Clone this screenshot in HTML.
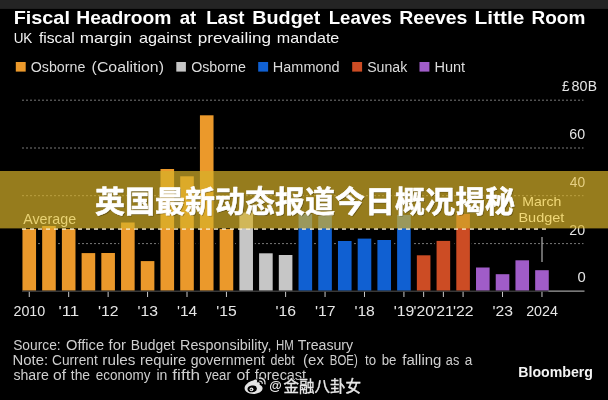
<!DOCTYPE html>
<html><head><meta charset="utf-8"><title>Fiscal Headroom</title>
<style>
html,body{margin:0;padding:0;background:#000;}
body{width:608px;height:400px;overflow:hidden;font-family:"Liberation Sans",sans-serif;}
svg{display:block;will-change:transform;}
svg text{font-family:"Liberation Sans",sans-serif;white-space:pre;}
svg text.cjk{font-family:"Liberation Sans","Noto Sans CJK SC",sans-serif;}
</style></head><body>
<svg width="608" height="400" viewBox="0 0 608 400">
<g opacity="0.999">
<rect x="0" y="0" width="608" height="400" fill="#000"/>
<rect x="0" y="0" width="608" height="8.9" fill="#242424"/>
<line x1="22" y1="100.2" x2="583.5" y2="100.2" stroke="#787878" stroke-width="1" stroke-dasharray="2 2"/>
<line x1="22" y1="148" x2="583.5" y2="148" stroke="#787878" stroke-width="1" stroke-dasharray="2 2"/>
<line x1="22" y1="195.7" x2="583.5" y2="195.7" stroke="#787878" stroke-width="1" stroke-dasharray="2 2"/>
<line x1="22" y1="243.6" x2="583.5" y2="243.6" stroke="#787878" stroke-width="1" stroke-dasharray="2 2"/>
<rect x="20.65" y="227.50" width="17.20" height="63.70" fill="#000"/>
<rect x="40.37" y="224.50" width="17.20" height="66.70" fill="#000"/>
<rect x="60.09" y="227.50" width="17.20" height="63.70" fill="#000"/>
<rect x="79.81" y="251.60" width="17.20" height="39.60" fill="#000"/>
<rect x="99.53" y="251.50" width="17.20" height="39.70" fill="#000"/>
<rect x="119.25" y="221.00" width="17.20" height="70.20" fill="#000"/>
<rect x="138.97" y="259.60" width="17.20" height="31.60" fill="#000"/>
<rect x="158.69" y="167.50" width="17.20" height="123.70" fill="#000"/>
<rect x="178.41" y="174.80" width="17.20" height="116.40" fill="#000"/>
<rect x="198.13" y="113.80" width="17.20" height="177.40" fill="#000"/>
<rect x="217.85" y="227.50" width="17.20" height="63.70" fill="#000"/>
<rect x="237.57" y="211.00" width="17.20" height="80.20" fill="#000"/>
<rect x="257.29" y="251.80" width="17.20" height="39.40" fill="#000"/>
<rect x="277.01" y="253.50" width="17.20" height="37.70" fill="#000"/>
<rect x="296.73" y="212.50" width="17.20" height="78.70" fill="#000"/>
<rect x="316.45" y="214.20" width="17.20" height="77.00" fill="#000"/>
<rect x="336.17" y="239.50" width="17.20" height="51.70" fill="#000"/>
<rect x="355.89" y="237.10" width="17.20" height="54.10" fill="#000"/>
<rect x="375.61" y="238.50" width="17.20" height="52.70" fill="#000"/>
<rect x="395.33" y="213.50" width="17.20" height="77.70" fill="#000"/>
<rect x="415.05" y="253.80" width="17.20" height="37.40" fill="#000"/>
<rect x="434.77" y="239.40" width="17.20" height="51.80" fill="#000"/>
<rect x="454.49" y="212.50" width="17.20" height="78.70" fill="#000"/>
<rect x="474.21" y="266.00" width="17.20" height="25.20" fill="#000"/>
<rect x="493.93" y="272.70" width="17.20" height="18.50" fill="#000"/>
<rect x="513.65" y="258.80" width="17.20" height="32.40" fill="#000"/>
<rect x="533.37" y="268.70" width="17.20" height="22.50" fill="#000"/>
<rect x="22.45" y="229.00" width="13.6" height="61.60" fill="#EB992B"/>
<rect x="42.17" y="226.00" width="13.6" height="64.60" fill="#EB992B"/>
<rect x="61.89" y="229.00" width="13.6" height="61.60" fill="#EB992B"/>
<rect x="81.61" y="253.10" width="13.6" height="37.50" fill="#EB992B"/>
<rect x="101.33" y="253.00" width="13.6" height="37.60" fill="#EB992B"/>
<rect x="121.05" y="222.50" width="13.6" height="68.10" fill="#EB992B"/>
<rect x="140.77" y="261.10" width="13.6" height="29.50" fill="#EB992B"/>
<rect x="160.49" y="169.00" width="13.6" height="121.60" fill="#EB992B"/>
<rect x="180.21" y="176.30" width="13.6" height="114.30" fill="#EB992B"/>
<rect x="199.93" y="115.30" width="13.6" height="175.30" fill="#EB992B"/>
<rect x="219.65" y="229.00" width="13.6" height="61.60" fill="#EB992B"/>
<rect x="239.37" y="212.50" width="13.6" height="78.10" fill="#C6C6C6"/>
<rect x="259.09" y="253.30" width="13.6" height="37.30" fill="#C6C6C6"/>
<rect x="278.81" y="255.00" width="13.6" height="35.60" fill="#C6C6C6"/>
<rect x="298.53" y="214.00" width="13.6" height="76.60" fill="#1060D2"/>
<rect x="318.25" y="215.70" width="13.6" height="74.90" fill="#1060D2"/>
<rect x="337.97" y="241.00" width="13.6" height="49.60" fill="#1060D2"/>
<rect x="357.69" y="238.60" width="13.6" height="52.00" fill="#1060D2"/>
<rect x="377.41" y="240.00" width="13.6" height="50.60" fill="#1060D2"/>
<rect x="397.13" y="215.00" width="13.6" height="75.60" fill="#1060D2"/>
<rect x="416.85" y="255.30" width="13.6" height="35.30" fill="#CC4C24"/>
<rect x="436.57" y="240.90" width="13.6" height="49.70" fill="#CC4C24"/>
<rect x="456.29" y="214.00" width="13.6" height="76.60" fill="#CC4C24"/>
<rect x="476.01" y="267.50" width="13.6" height="23.10" fill="#A05CC8"/>
<rect x="495.73" y="274.20" width="13.6" height="16.40" fill="#A05CC8"/>
<rect x="515.45" y="260.30" width="13.6" height="30.30" fill="#A05CC8"/>
<rect x="535.17" y="270.20" width="13.6" height="20.40" fill="#A05CC8"/>
<line x1="22" y1="291.2" x2="549" y2="291.2" stroke="#505050" stroke-width="1"/>
<line x1="548.5" y1="291.2" x2="584.5" y2="291.2" stroke="#a0a0a0" stroke-width="1.2"/>
<line x1="29.25" y1="291.8" x2="29.25" y2="297" stroke="#c8c8c8" stroke-width="1"/>
<line x1="68.69" y1="291.8" x2="68.69" y2="297" stroke="#c8c8c8" stroke-width="1"/>
<line x1="108.13" y1="291.8" x2="108.13" y2="297" stroke="#c8c8c8" stroke-width="1"/>
<line x1="147.57" y1="291.8" x2="147.57" y2="297" stroke="#c8c8c8" stroke-width="1"/>
<line x1="187.01" y1="291.8" x2="187.01" y2="297" stroke="#c8c8c8" stroke-width="1"/>
<line x1="226.45" y1="291.8" x2="226.45" y2="297" stroke="#c8c8c8" stroke-width="1"/>
<line x1="285.61" y1="291.8" x2="285.61" y2="297" stroke="#c8c8c8" stroke-width="1"/>
<line x1="325.05" y1="291.8" x2="325.05" y2="297" stroke="#c8c8c8" stroke-width="1"/>
<line x1="364.49" y1="291.8" x2="364.49" y2="297" stroke="#c8c8c8" stroke-width="1"/>
<line x1="403.93" y1="291.8" x2="403.93" y2="297" stroke="#c8c8c8" stroke-width="1"/>
<line x1="423.65" y1="291.8" x2="423.65" y2="297" stroke="#c8c8c8" stroke-width="1"/>
<line x1="443.37" y1="291.8" x2="443.37" y2="297" stroke="#c8c8c8" stroke-width="1"/>
<line x1="463.09" y1="291.8" x2="463.09" y2="297" stroke="#c8c8c8" stroke-width="1"/>
<line x1="502.53" y1="291.8" x2="502.53" y2="297" stroke="#c8c8c8" stroke-width="1"/>
<line x1="541.97" y1="291.8" x2="541.97" y2="297" stroke="#c8c8c8" stroke-width="1"/>
<line x1="542" y1="237" x2="542" y2="262" stroke="#b0b0b0" stroke-width="1.2"/>
<line x1="22" y1="229.1" x2="548.5" y2="229.1" stroke="#fbf0d4" stroke-width="1.5" stroke-dasharray="4 4"/>
<text x="561.92" y="91.4" font-size="14" font-weight="normal" fill="#e4e4e4" text-anchor="start" textLength="7.5" lengthAdjust="spacingAndGlyphs">£</text><text x="571.58" y="91.4" font-size="14" font-weight="normal" fill="#e4e4e4" text-anchor="start" textLength="15.97" lengthAdjust="spacingAndGlyphs">80</text><text x="587.86" y="91.4" font-size="14" font-weight="normal" fill="#e4e4e4" text-anchor="start" textLength="9.27" lengthAdjust="spacingAndGlyphs">B</text>
<text x="569.38" y="139" font-size="14" font-weight="normal" fill="#e4e4e4" text-anchor="start" textLength="15.77" lengthAdjust="spacingAndGlyphs">60</text>
<text x="569.39" y="234.5" font-size="14" font-weight="normal" fill="#e4e4e4" text-anchor="start" textLength="15.76" lengthAdjust="spacingAndGlyphs">20</text>
<text x="577.52" y="282.2" font-size="14" font-weight="normal" fill="#e4e4e4" text-anchor="start" textLength="8.25" lengthAdjust="spacingAndGlyphs">0</text>
<rect x="0" y="171" width="608" height="57.4" fill="rgb(214,176,42)" fill-opacity="0.7"/>
<text x="569.79" y="186.7" font-size="14" font-weight="normal" fill="#e6d084" text-anchor="start" textLength="15.35" lengthAdjust="spacingAndGlyphs">40</text>
<text x="522.24" y="206" font-size="13.6" font-weight="normal" fill="#f0d878" text-anchor="start" textLength="39.17" lengthAdjust="spacingAndGlyphs">March</text>
<text x="518.41" y="221.5" font-size="13.6" font-weight="normal" fill="#f0d878" text-anchor="start" textLength="45.99" lengthAdjust="spacingAndGlyphs">Budget</text>
<text x="23.18" y="224.2" font-size="14.8" font-weight="normal" fill="#e8d274" text-anchor="start" textLength="52.95" lengthAdjust="spacingAndGlyphs">Average</text>
<text x="13.68" y="23.8" font-size="18.6" font-weight="bold" fill="#ffffff" text-anchor="start" textLength="56.22" lengthAdjust="spacingAndGlyphs">Fiscal</text><text x="76.22" y="23.8" font-size="18.6" font-weight="bold" fill="#ffffff" text-anchor="start" textLength="95.27" lengthAdjust="spacingAndGlyphs">Headroom</text><text x="179.66" y="23.8" font-size="18.6" font-weight="bold" fill="#ffffff" text-anchor="start" textLength="16.57" lengthAdjust="spacingAndGlyphs">at</text><text x="206.16" y="23.8" font-size="18.6" font-weight="bold" fill="#ffffff" text-anchor="start" textLength="38.37" lengthAdjust="spacingAndGlyphs">Last</text><text x="252.29" y="23.8" font-size="18.6" font-weight="bold" fill="#ffffff" text-anchor="start" textLength="68.05" lengthAdjust="spacingAndGlyphs">Budget</text><text x="328.76" y="23.8" font-size="18.6" font-weight="bold" fill="#ffffff" text-anchor="start" textLength="62.99" lengthAdjust="spacingAndGlyphs">Leaves</text><text x="399.31" y="23.8" font-size="18.6" font-weight="bold" fill="#ffffff" text-anchor="start" textLength="68.08" lengthAdjust="spacingAndGlyphs">Reeves</text><text x="474.61" y="23.8" font-size="18.6" font-weight="bold" fill="#ffffff" text-anchor="start" textLength="49.8" lengthAdjust="spacingAndGlyphs">Little</text><text x="531.54" y="23.8" font-size="18.6" font-weight="bold" fill="#ffffff" text-anchor="start" textLength="53.83" lengthAdjust="spacingAndGlyphs">Room</text>
<text x="13.66" y="42.8" font-size="15" font-weight="normal" fill="#f4f4f4" text-anchor="start" textLength="18.69" lengthAdjust="spacingAndGlyphs">UK</text><text x="38.98" y="42.8" font-size="15" font-weight="normal" fill="#f4f4f4" text-anchor="start" textLength="35.67" lengthAdjust="spacingAndGlyphs">fiscal</text><text x="79.77" y="42.8" font-size="15" font-weight="normal" fill="#f4f4f4" text-anchor="start" textLength="52.34" lengthAdjust="spacingAndGlyphs">margin</text><text x="139.02" y="42.8" font-size="15" font-weight="normal" fill="#f4f4f4" text-anchor="start" textLength="52.49" lengthAdjust="spacingAndGlyphs">against</text><text x="197.8" y="42.8" font-size="15" font-weight="normal" fill="#f4f4f4" text-anchor="start" textLength="73.3" lengthAdjust="spacingAndGlyphs">prevailing</text><text x="276.74" y="42.8" font-size="15" font-weight="normal" fill="#f4f4f4" text-anchor="start" textLength="62.57" lengthAdjust="spacingAndGlyphs">mandate</text>
<rect x="15.8" y="62" width="9.9" height="9.6" fill="#EB992B"/>
<text x="30.73" y="71.9" font-size="15.5" font-weight="normal" fill="#dcdcdc" text-anchor="start" textLength="54.59" lengthAdjust="spacingAndGlyphs">Osborne</text><text x="91.62" y="71.9" font-size="15.5" font-weight="normal" fill="#dcdcdc" text-anchor="start" textLength="72.37" lengthAdjust="spacingAndGlyphs">(Coalition)</text>
<rect x="176.3" y="62" width="9.6" height="9.6" fill="#C6C6C6"/>
<text x="191.13" y="71.9" font-size="15.5" font-weight="normal" fill="#dcdcdc" text-anchor="start" textLength="54.7" lengthAdjust="spacingAndGlyphs">Osborne</text>
<rect x="258.2" y="62" width="9.9" height="9.6" fill="#1060D2"/>
<text x="272.81" y="71.9" font-size="15.5" font-weight="normal" fill="#dcdcdc" text-anchor="start" textLength="66.82" lengthAdjust="spacingAndGlyphs">Hammond</text>
<rect x="352.2" y="62" width="9.9" height="9.6" fill="#CC4C24"/>
<text x="367.16" y="71.9" font-size="15.5" font-weight="normal" fill="#dcdcdc" text-anchor="start" textLength="40.11" lengthAdjust="spacingAndGlyphs">Sunak</text>
<rect x="419.5" y="62" width="9.9" height="9.6" fill="#A05CC8"/>
<text x="434.41" y="71.9" font-size="15.5" font-weight="normal" fill="#dcdcdc" text-anchor="start" textLength="30.69" lengthAdjust="spacingAndGlyphs">Hunt</text>
<text x="13.43" y="315.8" font-size="14" font-weight="normal" fill="#e6e6e6" text-anchor="start" textLength="31.87" lengthAdjust="spacingAndGlyphs">2010</text>
<text x="58.54" y="315.8" font-size="14" font-weight="normal" fill="#e6e6e6" text-anchor="start" textLength="20.66" lengthAdjust="spacingAndGlyphs">'11</text>
<text x="98.03" y="315.8" font-size="14" font-weight="normal" fill="#e6e6e6" text-anchor="start" textLength="20.59" lengthAdjust="spacingAndGlyphs">'12</text>
<text x="137.48" y="315.8" font-size="14" font-weight="normal" fill="#e6e6e6" text-anchor="start" textLength="20.48" lengthAdjust="spacingAndGlyphs">'13</text>
<text x="176.93" y="315.8" font-size="14" font-weight="normal" fill="#e6e6e6" text-anchor="start" textLength="20.24" lengthAdjust="spacingAndGlyphs">'14</text>
<text x="216.36" y="315.8" font-size="14" font-weight="normal" fill="#e6e6e6" text-anchor="start" textLength="20.45" lengthAdjust="spacingAndGlyphs">'15</text>
<text x="275.52" y="315.8" font-size="14" font-weight="normal" fill="#e6e6e6" text-anchor="start" textLength="20.48" lengthAdjust="spacingAndGlyphs">'16</text>
<text x="314.95" y="315.8" font-size="14" font-weight="normal" fill="#e6e6e6" text-anchor="start" textLength="20.59" lengthAdjust="spacingAndGlyphs">'17</text>
<text x="354.4" y="315.8" font-size="14" font-weight="normal" fill="#e6e6e6" text-anchor="start" textLength="20.47" lengthAdjust="spacingAndGlyphs">'18</text>
<text x="393.83" y="315.8" font-size="14" font-weight="normal" fill="#e6e6e6" text-anchor="start" textLength="20.54" lengthAdjust="spacingAndGlyphs">'19</text>
<text x="413.56" y="315.8" font-size="14" font-weight="normal" fill="#e6e6e6" text-anchor="start" textLength="20.4" lengthAdjust="spacingAndGlyphs">'20</text>
<text x="433.27" y="315.8" font-size="14" font-weight="normal" fill="#e6e6e6" text-anchor="start" textLength="20.57" lengthAdjust="spacingAndGlyphs">'21</text>
<text x="452.99" y="315.8" font-size="14" font-weight="normal" fill="#e6e6e6" text-anchor="start" textLength="20.59" lengthAdjust="spacingAndGlyphs">'22</text>
<text x="492.44" y="315.8" font-size="14" font-weight="normal" fill="#e6e6e6" text-anchor="start" textLength="20.48" lengthAdjust="spacingAndGlyphs">'23</text>
<text x="526.16" y="315.8" font-size="14" font-weight="normal" fill="#e6e6e6" text-anchor="start" textLength="31.73" lengthAdjust="spacingAndGlyphs">2024</text>
<text x="13.18" y="349.7" font-size="14" font-weight="normal" fill="#cfcfcf" text-anchor="start" textLength="47.47" lengthAdjust="spacingAndGlyphs">Source:</text><text x="66.01" y="349.7" font-size="14" font-weight="normal" fill="#cfcfcf" text-anchor="start" textLength="38.04" lengthAdjust="spacingAndGlyphs">Office</text><text x="108.59" y="349.7" font-size="14" font-weight="normal" fill="#cfcfcf" text-anchor="start" textLength="17.35" lengthAdjust="spacingAndGlyphs">for</text><text x="130.86" y="349.7" font-size="14" font-weight="normal" fill="#cfcfcf" text-anchor="start" textLength="43.93" lengthAdjust="spacingAndGlyphs">Budget</text><text x="180.02" y="349.7" font-size="14" font-weight="normal" fill="#cfcfcf" text-anchor="start" textLength="91.46" lengthAdjust="spacingAndGlyphs">Responsibility,</text><text x="275.96" y="349.7" font-size="14" font-weight="normal" fill="#cfcfcf" text-anchor="start" textLength="17.78" lengthAdjust="spacingAndGlyphs">HM</text><text x="297.89" y="349.7" font-size="14" font-weight="normal" fill="#cfcfcf" text-anchor="start" textLength="55.24" lengthAdjust="spacingAndGlyphs">Treasury</text>
<text x="12.58" y="364.6" font-size="14" font-weight="normal" fill="#cfcfcf" text-anchor="start" textLength="35.57" lengthAdjust="spacingAndGlyphs">Note:</text><text x="52.01" y="364.6" font-size="14" font-weight="normal" fill="#cfcfcf" text-anchor="start" textLength="45.69" lengthAdjust="spacingAndGlyphs">Current</text><text x="102.39" y="364.6" font-size="14" font-weight="normal" fill="#cfcfcf" text-anchor="start" textLength="33.06" lengthAdjust="spacingAndGlyphs">rules</text><text x="140.12" y="364.6" font-size="14" font-weight="normal" fill="#cfcfcf" text-anchor="start" textLength="46.03" lengthAdjust="spacingAndGlyphs">require</text><text x="190.72" y="364.6" font-size="14" font-weight="normal" fill="#cfcfcf" text-anchor="start" textLength="74.18" lengthAdjust="spacingAndGlyphs">government</text><text x="270.48" y="364.6" font-size="14" font-weight="normal" fill="#cfcfcf" text-anchor="start" textLength="24.2" lengthAdjust="spacingAndGlyphs">debt</text><text x="303.07" y="364.6" font-size="14" font-weight="normal" fill="#cfcfcf" text-anchor="start" textLength="20.89" lengthAdjust="spacingAndGlyphs">(ex</text><text x="329.87" y="364.6" font-size="14" font-weight="normal" fill="#cfcfcf" text-anchor="start" textLength="27.84" lengthAdjust="spacingAndGlyphs">BOE)</text><text x="365.0" y="364.6" font-size="14" font-weight="normal" fill="#cfcfcf" text-anchor="start" textLength="11.05" lengthAdjust="spacingAndGlyphs">to</text><text x="381.65" y="364.6" font-size="14" font-weight="normal" fill="#cfcfcf" text-anchor="start" textLength="14.73" lengthAdjust="spacingAndGlyphs">be</text><text x="402.29" y="364.6" font-size="14" font-weight="normal" fill="#cfcfcf" text-anchor="start" textLength="39.17" lengthAdjust="spacingAndGlyphs">falling</text><text x="445.87" y="364.6" font-size="14" font-weight="normal" fill="#cfcfcf" text-anchor="start" textLength="13.39" lengthAdjust="spacingAndGlyphs">as</text><text x="464.83" y="364.6" font-size="14" font-weight="normal" fill="#cfcfcf" text-anchor="start" textLength="7.57" lengthAdjust="spacingAndGlyphs">a</text>
<text x="13.41" y="380.2" font-size="14" font-weight="normal" fill="#cfcfcf" text-anchor="start" textLength="35.41" lengthAdjust="spacingAndGlyphs">share</text><text x="53.05" y="380.2" font-size="14" font-weight="normal" fill="#cfcfcf" text-anchor="start" textLength="13.02" lengthAdjust="spacingAndGlyphs">of</text><text x="70.79" y="380.2" font-size="14" font-weight="normal" fill="#cfcfcf" text-anchor="start" textLength="19.32" lengthAdjust="spacingAndGlyphs">the</text><text x="95.73" y="380.2" font-size="14" font-weight="normal" fill="#cfcfcf" text-anchor="start" textLength="54.69" lengthAdjust="spacingAndGlyphs">economy</text><text x="156.46" y="380.2" font-size="14" font-weight="normal" fill="#cfcfcf" text-anchor="start" textLength="10.95" lengthAdjust="spacingAndGlyphs">in</text><text x="172.36" y="380.2" font-size="14" font-weight="normal" fill="#cfcfcf" text-anchor="start" textLength="27.65" lengthAdjust="spacingAndGlyphs">fifth</text><text x="205.17" y="380.2" font-size="14" font-weight="normal" fill="#cfcfcf" text-anchor="start" textLength="25.64" lengthAdjust="spacingAndGlyphs">year</text><text x="236.54" y="380.2" font-size="14" font-weight="normal" fill="#cfcfcf" text-anchor="start" textLength="13.23" lengthAdjust="spacingAndGlyphs">of</text><text x="254.8" y="380.2" font-size="14" font-weight="normal" fill="#cfcfcf" text-anchor="start" textLength="51.3" lengthAdjust="spacingAndGlyphs">forecast</text>
<text x="518.26" y="377" font-size="14" font-weight="bold" fill="#f4f4f4" text-anchor="start" textLength="74.69" lengthAdjust="spacingAndGlyphs">Bloomberg</text>
<text class="cjk" x="95" y="211.5" font-size="30" font-weight="bold" fill="#000" fill-opacity="0.3" text-anchor="start" textLength="420" lengthAdjust="spacingAndGlyphs" transform="translate(0.9,1.1)">英国最新动态报道今日概况揭秘</text>
<text class="cjk" x="95" y="211.5" font-size="30" font-weight="bold" fill="#fff" stroke="#fff" stroke-width="0.6" stroke-linejoin="round" text-anchor="start" textLength="420" lengthAdjust="spacingAndGlyphs">英国最新动态报道今日概况揭秘</text>
<text class="cjk" x="283.5" y="392" font-size="15.4" font-weight="normal" fill="#000" stroke="#000" stroke-width="2" stroke-opacity="0.75" stroke-linejoin="round" text-anchor="start" textLength="77.5" lengthAdjust="spacingAndGlyphs">金融八卦女</text>
<text class="cjk" x="283.5" y="392" font-size="15.4" font-weight="normal" fill="#e8e8e8" stroke="#e8e8e8" stroke-width="0.35" text-anchor="start" textLength="77.5" lengthAdjust="spacingAndGlyphs">金融八卦女</text>
<text x="269.27" y="390.4" font-size="12.4" font-weight="bold" fill="#e8e8e8" text-anchor="start" textLength="12.47" lengthAdjust="spacingAndGlyphs">@</text>
<g fill="none" stroke="#e4e4e4">
<path d="M259.300 381.100c1.800-.4 3.300 1 2.900 2.800" stroke="#000" stroke-opacity="0.75" stroke-width="3"/>
<path d="M258.900 378.200c3.800-.9 7 2.300 6.100 6.100" stroke="#000" stroke-opacity="0.75" stroke-width="3.200"/>
<path stroke="#000" stroke-opacity="0.75" stroke-width="2" fill="none" d="M253.2 380.6c1.6-1.4 3.600-1.500 3.900.2c.1.600-.1 1.100-.3 1.600c2.300-.5 3.600.5 2.800 2.400c2.100.7 3 2.100 3 3.500c0 3.200-4.100 5.600-9.100 5.600c-5.100 0-8.900-2.400-8.900-5.700c0-2.800 3.700-6.600 8.600-7.600z"/>
<path d="M253.2 380.6c1.600-1.400 3.600-1.500 3.900.2c.1.600-.1 1.100-.3 1.600c2.300-.5 3.600.5 2.800 2.400c2.100.7 3 2.100 3 3.500c0 3.200-4.100 5.600-9.100 5.600c-5.100 0-8.900-2.400-8.900-5.700c0-2.800 3.700-6.600 8.600-7.600z" fill="#e4e4e4" stroke="none"/>
<ellipse cx="252.2" cy="388.9" rx="4.700" ry="3.400" fill="#000" stroke="none" transform="rotate(-8 252.2 388.9)"/>
<circle cx="251.5" cy="389.300" r="1.900" fill="#e4e4e4" stroke="none"/>
<circle cx="251.2" cy="389.5" r="0.700" fill="#000" stroke="none"/>
<path d="M259.300 381.100c1.800-.4 3.300 1 2.900 2.800" stroke-width="1.200"/>
<path d="M258.900 378.200c3.800-.9 7 2.300 6.100 6.100" stroke-width="1.400"/>
</g>
</g>
</svg>
</body></html>
